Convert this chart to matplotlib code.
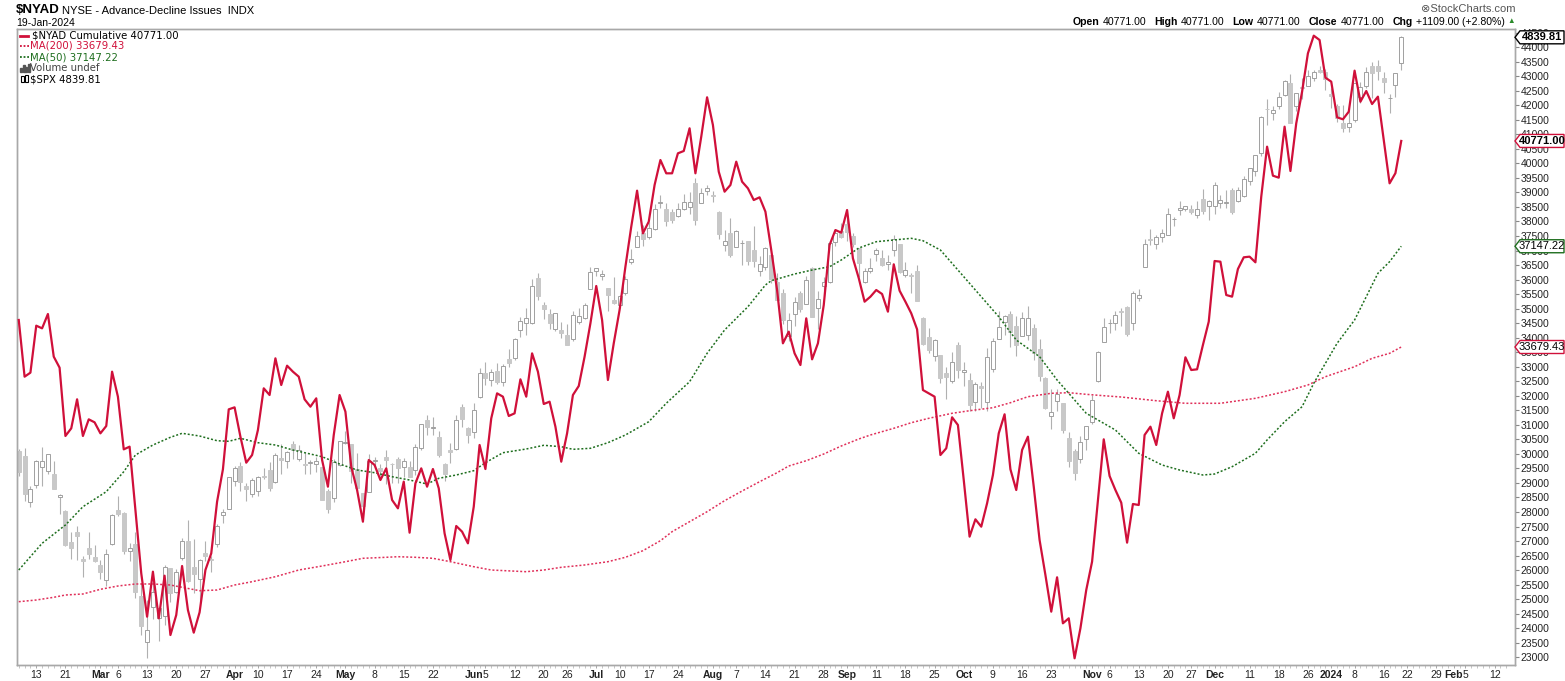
import matplotlib
matplotlib.use("Agg")
import matplotlib.pyplot as plt
import matplotlib.transforms as mtransforms
from matplotlib.patches import Polygon, Rectangle
from matplotlib.lines import Line2D
import numpy as np
import pandas as pd

plt.rcParams['font.family'] = ['Liberation Sans', 'DejaVu Sans']

# ---- data (trading-day index 0 = 8 Feb 2023) ----
holidays = ["2023-02-20", "2023-04-07", "2023-05-29", "2023-06-19", "2023-07-04",
            "2023-09-04", "2023-11-23", "2023-12-25", "2024-01-01", "2024-01-15"]

nyad = [34609, 32658, 32796, 34413, 34322, 34815, 33347, 32968, 30617, 30880,
        31879, 30617, 31190, 31087, 30708, 30960, 32830, 31970, 30157, 30249,
        28070, 25890, 24398, 25947, 24341, 25809, 23767, 24456, 26142, 24628,
        23848, 24548, 26005, 26578, 28356, 29469, 31534, 31603, 30593, 29698,
        29962, 30823, 32257, 32027, 33289, 32371, 33036, 32830, 32658, 31879,
        31626, 31913, 29790, 28872, 30651, 32027, 31454, 29560, 28758, 27667,
        29790, 29618, 29102, 29503, 28414, 28127, 29045, 27289, 28987, 29503,
        28872, 29480, 28815, 27266, 26349, 27519, 27324, 26922, 28184, 30307,
        29480, 31224, 32084, 31970, 31305, 31396, 32567, 31970, 33461, 32830,
        31718, 31798, 30937, 29733, 30708, 32027, 32337, 33345, 34495, 35779,
        34609, 32544, 33806, 34953, 36444, 37820, 39060, 37592, 37993, 39254,
        40115, 39657, 39657, 40345, 40425, 41206, 39657, 40918, 42273, 41320,
        39713, 39025, 39254, 40058, 39369, 39141, 38738, 38831, 38337, 37018,
        35641, 33806, 34207, 33461, 33059, 34666, 33255, 33806, 35124, 37190,
        37705, 37614, 38394, 36731, 36050, 35239, 35411, 35641, 35503, 34895,
        36525, 35618, 35239, 34839, 34288, 32199, 32085, 31970, 29962, 30193,
        31260, 30995, 29102, 27152, 27749, 27496, 28300, 29274, 30709, 31363,
        29470, 28758, 30134, 30593, 28872, 27037, 25832, 24571, 25753, 24170,
        24342, 22966, 23998, 25316, 26292, 28414, 30502, 29240, 28758, 28322,
        26946, 28276, 28242, 30651, 30937, 30307, 31397, 32142, 31225, 32027,
        33325, 32888, 32911, 33748, 34552, 36639, 36616, 35469, 35412, 36364,
        36766, 36789, 36594, 38853, 40574, 39576, 39507, 41262, 39737, 41378,
        42467, 43787, 44394, 44245, 42949, 42811, 41585, 41516, 41778, 43190,
        42122, 42490, 42042, 42295, 40804, 39313, 39662, 40771.00]

ma50_idx = [0, 4, 8, 11, 15, 18, 20, 23, 26, 28, 31, 34, 36, 38, 41, 44, 47, 52,
            55, 58, 61, 64, 67, 70, 72, 75, 78, 80, 83, 87, 90, 93, 95, 98, 101,
            104, 108, 111, 115, 118, 121, 125, 128, 129, 133, 136, 139, 141, 144,
            147, 150, 153, 155, 158, 161, 165, 168, 171, 175, 178, 180, 183, 185,
            188, 190, 192, 196, 199, 203, 205, 208, 212, 214, 217, 220, 222, 224,
            226, 229, 231, 233, 235, 237]
ma50_val = [26004, 26923, 27553, 28183, 28699, 29388, 29962, 30306, 30572, 30709,
            30616, 30454, 30434, 30537, 30386, 30306, 30134, 29904, 29653, 29446,
            29353, 29215, 29102, 28964, 29160, 29274, 29422, 29697, 30041, 30169,
            30296, 30248, 30158, 30193, 30386, 30651, 31108, 31742, 32485, 33462,
            34264, 35066, 35813, 35961, 36192, 36329, 36443, 36673, 37086, 37303,
            37362, 37420, 37338, 37017, 36329, 35410, 34722, 33920, 33345, 32544,
            32086, 31397, 31167, 30823, 30420, 30021, 29618, 29446, 29274, 29308,
            29560, 30021, 30479, 31108, 31625, 32430, 33118, 33807, 34609, 35410,
            36216, 36615, 37147.22]

ma200_idx = [0, 3, 6, 8, 11, 14, 17, 20, 23, 26, 28, 31, 34, 37, 40, 44, 48, 52,
             56, 59, 63, 65, 68, 71, 74, 78, 81, 87, 90, 93, 97, 101, 104, 107,
             110, 112, 115, 118, 121, 124, 127, 130, 132, 135, 138, 141, 144, 146,
             150, 153, 156, 160, 163, 167, 170, 173, 177, 180, 183, 186, 189, 195,
             200, 206, 212, 217, 221, 224, 229, 232, 235, 237]
ma200_val = [24914, 24972, 25065, 25144, 25179, 25340, 25454, 25523, 25523, 25488,
             25409, 25292, 25316, 25488, 25602, 25774, 26004, 26142, 26290, 26407,
             26442, 26462, 26442, 26407, 26290, 26118, 26004, 25946, 26004, 26097,
             26177, 26290, 26442, 26669, 27013, 27323, 27667, 28011, 28390, 28723,
             29043, 29353, 29584, 29766, 29997, 30272, 30513, 30651, 30881, 31074,
             31225, 31398, 31487, 31590, 31762, 31969, 32086, 32107, 32051, 32003,
             31958, 31831, 31742, 31742, 31914, 32141, 32372, 32657, 33001, 33290,
             33462, 33679.43]

spx_open = [4153, 4144, 4068, 4097, 4126, 4119, 4114, 4077, 4053, 4002, 4019, 3973, 3992, 3977,
            3964, 3939, 3998, 4055, 4049, 3987, 3999, 3912, 3835, 3894, 3876, 3878, 3959, 3918,
            3975, 4003, 3960, 3940, 3983, 3974, 3999, 4047, 4057,
            4103, 4128, 4094, 4082, 4086, 4111, 4122, 4101, 4141, 4137, 4164, 4140, 4131, 4133,
            4132, 4126, 4087, 4075, 4129,
            4166, 4164, 4123, 4083, 4084, 4136, 4124, 4143, 4132, 4139, 4126, 4127, 4122, 4157,
            4205, 4191, 4176, 4132, 4155, 4156, 4226, 4191,
            4184, 4242, 4283, 4271, 4285, 4268, 4305, 4308, 4353, 4366, 4366, 4440, 4396, 4381,
            4355, 4354, 4345, 4338, 4367, 4374, 4422,
            4451, 4443, 4423, 4404, 4395, 4415, 4467, 4492, 4514, 4509, 4522, 4564, 4554, 4550,
            4543, 4555, 4558, 4598, 4565, 4584,
            4578, 4550, 4495, 4514, 4492, 4498, 4501, 4487, 4451, 4459, 4478, 4433, 4416, 4344,
            4380, 4416, 4397, 4456, 4390, 4427, 4433, 4500, 4518,
            4530, 4510, 4490, 4434, 4451, 4480, 4473, 4463, 4487, 4497, 4445, 4445, 4452, 4374,
            4342, 4310, 4312, 4282, 4269, 4328,
            4284, 4270, 4234, 4260, 4234, 4289, 4339, 4367, 4381, 4360, 4343, 4346, 4357, 4322,
            4274, 4211, 4235, 4232, 4175, 4153, 4140, 4172,
            4201, 4269, 4334, 4365, 4366, 4385, 4392, 4365, 4407, 4458, 4505, 4497, 4509, 4511,
            4538, 4553, 4555, 4555, 4545, 4572, 4559,
            4559, 4565, 4565, 4587, 4568, 4577, 4601, 4618, 4647, 4721, 4714, 4725, 4744, 4764,
            4725, 4758, 4759, 4773, 4786, 4782,
            4745, 4726, 4698, 4691, 4703, 4741, 4759, 4792, 4792, 4772, 4739, 4760, 4797]
spx_high = [4156, 4157, 4095, 4138, 4160, 4148, 4136, 4081, 4055, 4018, 4029, 3979, 4018, 3997,
            3972, 3990, 4048, 4078, 4051, 4000, 4018, 3934, 3906, 3937, 3894, 3964, 3959, 3956,
            4009, 4039, 4007, 3973, 4003, 3979, 4031, 4057, 4110,
            4128, 4134, 4099, 4108, 4111, 4125, 4134, 4150, 4164, 4152, 4170, 4163, 4149, 4138,
            4143, 4127, 4090, 4139, 4170,
            4186, 4164, 4149, 4083, 4148, 4143, 4131, 4154, 4133, 4143, 4141, 4136, 4164, 4198,
            4212, 4210, 4186, 4133, 4166, 4213, 4231, 4193,
            4232, 4290, 4300, 4289, 4299, 4298, 4322, 4340, 4375, 4391, 4439, 4448, 4401, 4389,
            4382, 4367, 4363, 4385, 4391, 4398, 4458,
            4457, 4454, 4423, 4441, 4412, 4443, 4489, 4518, 4528, 4533, 4563, 4578, 4565, 4555,
            4564, 4580, 4583, 4607, 4590, 4595,
            4585, 4551, 4519, 4540, 4520, 4504, 4502, 4527, 4476, 4491, 4479, 4449, 4421, 4382,
            4408, 4419, 4443, 4458, 4418, 4441, 4501, 4522, 4532,
            4541, 4515, 4490, 4457, 4474, 4490, 4487, 4479, 4511, 4497, 4466, 4449, 4461, 4376,
            4357, 4338, 4313, 4292, 4318, 4334,
            4300, 4282, 4268, 4268, 4324, 4341, 4386, 4378, 4386, 4377, 4383, 4393, 4364, 4339,
            4276, 4256, 4255, 4232, 4184, 4156, 4178, 4195,
            4246, 4319, 4374, 4372, 4386, 4391, 4393, 4418, 4421, 4505, 4521, 4511, 4521, 4557,
            4542, 4568, 4560, 4562, 4568, 4588, 4570,
            4599, 4578, 4587, 4590, 4592, 4610, 4623, 4643, 4709, 4738, 4726, 4749, 4769, 4779,
            4748, 4772, 4785, 4786, 4793, 4788,
            4755, 4729, 4727, 4722, 4764, 4765, 4791, 4799, 4802, 4783, 4745, 4781, 4842]
spx_low = [4111, 4069, 4060, 4092, 4095, 4114, 4089, 4048, 3995, 3973, 3972, 3944, 3974, 3969,
           3940, 3928, 3996, 4044, 3981, 3970, 3908, 3847, 3809, 3873, 3838, 3864, 3902, 3917,
           3972, 3936, 3917, 3902, 3970, 3951, 3993, 4033, 4056,
           4095, 4086, 4069, 4077, 4078, 4106, 4087, 4100, 4114, 4125, 4140, 4136, 4115, 4114,
           4118, 4071, 4049, 4068, 4128,
           4164, 4100, 4088, 4049, 4084, 4124, 4111, 4098, 4099, 4099, 4110, 4110, 4113, 4154,
           4180, 4180, 4143, 4103, 4133, 4155, 4193, 4166,
           4174, 4241, 4262, 4261, 4264, 4261, 4292, 4304, 4342, 4345, 4363, 4404, 4372, 4356,
           4352, 4341, 4328, 4336, 4364, 4372, 4422,
           4443, 4437, 4385, 4397, 4390, 4412, 4464, 4492, 4494, 4505, 4519, 4557, 4527, 4531,
           4541, 4553, 4547, 4528, 4564, 4578,
           4567, 4505, 4485, 4475, 4492, 4461, 4462, 4458, 4443, 4453, 4432, 4403, 4364, 4335,
           4360, 4383, 4397, 4375, 4356, 4411, 4431, 4494, 4507,
           4501, 4491, 4442, 4431, 4448, 4468, 4460, 4453, 4477, 4448, 4442, 4416, 4402, 4329,
           4316, 4303, 4265, 4239, 4265, 4274,
           4260, 4220, 4220, 4225, 4219, 4284, 4339, 4345, 4325, 4311, 4343, 4337, 4304, 4269,
           4223, 4190, 4219, 4182, 4127, 4104, 4133, 4154,
           4197, 4268, 4334, 4348, 4354, 4361, 4344, 4354, 4402, 4458, 4495, 4488, 4500, 4511,
           4526, 4545, 4552, 4546, 4540, 4547, 4537,
           4547, 4556, 4557, 4547, 4566, 4574, 4594, 4609, 4643, 4694, 4702, 4720, 4743, 4697,
           4717, 4737, 4759, 4768, 4780, 4752,
           4723, 4700, 4683, 4682, 4700, 4731, 4756, 4739, 4769, 4748, 4714, 4740, 4785]
spx_close = [4118, 4082, 4090, 4137, 4136, 4148, 4090, 4079, 3997, 3991, 4012, 3970, 3982, 3970,
             3951, 3981, 4046, 4048, 3986, 3992, 3918, 3862, 3856, 3919, 3892, 3960, 3917, 3952,
             4003, 3937, 3949, 3971, 3978, 3971, 4028, 4051, 4109,
             4125, 4101, 4090, 4105, 4109, 4109, 4092, 4146, 4138, 4151, 4155, 4155, 4130, 4134,
             4137, 4072, 4056, 4135, 4169,
             4168, 4120, 4091, 4061, 4136, 4138, 4119, 4138, 4131, 4124, 4136, 4110, 4159, 4198,
             4192, 4193, 4146, 4115, 4151, 4205, 4206, 4180,
             4221, 4282, 4274, 4284, 4268, 4294, 4299, 4339, 4369, 4373, 4426, 4410, 4389, 4366,
             4382, 4348, 4329, 4378, 4377, 4396, 4450,
             4456, 4447, 4412, 4399, 4410, 4439, 4472, 4510, 4505, 4523, 4555, 4566, 4535, 4536,
             4555, 4567, 4567, 4537, 4582, 4589,
             4577, 4513, 4502, 4478, 4518, 4499, 4468, 4469, 4464, 4490, 4438, 4404, 4370, 4370,
             4400, 4388, 4436, 4376, 4406, 4433, 4498, 4515, 4508,
             4516, 4497, 4465, 4451, 4457, 4487, 4462, 4467, 4505, 4450, 4454, 4444, 4402, 4330,
             4320, 4337, 4274, 4275, 4300, 4288,
             4288, 4229, 4264, 4258, 4309, 4336, 4358, 4377, 4350, 4328, 4374, 4373, 4315, 4278,
             4224, 4217, 4248, 4187, 4137, 4117, 4167, 4194,
             4238, 4318, 4358, 4366, 4378, 4383, 4347, 4415, 4412, 4496, 4503, 4508, 4514, 4547,
             4538, 4557, 4559, 4550, 4555, 4551, 4568,
             4595, 4570, 4567, 4549, 4586, 4604, 4622, 4644, 4707, 4720, 4719, 4741, 4768, 4698,
             4747, 4755, 4775, 4782, 4783, 4770,
             4743, 4705, 4689, 4697, 4764, 4757, 4783, 4780, 4784, 4766, 4739, 4781, 4839.81]

# ---- layout (pixels) ----
W, H = 1565, 681
L, R, T, B = 17, 1515, 29, 665
RED = "#d0103a"
GREEN = "#1e6e1e"
GRID = "#a8a8a8"

days = pd.bdate_range("2023-02-08", "2024-02-14", freq="C", holidays=holidays)
n = len(nyad)
x = np.arange(n)
o, h, l, c = (np.array(a, dtype=float) for a in (spx_open, spx_high, spx_low, spx_close))

fig = plt.figure(figsize=(W / 100, H / 100), dpi=100)
fig.patch.set_facecolor("white")
pix = mtransforms.Affine2D().scale(1.0 / W, -1.0 / H).translate(0, 1) + fig.transFigure

ax_spx = fig.add_axes([L / W, 1 - B / H, (R - L) / W, (B - T) / H])
ax = ax_spx.twinx()

# SPX candles (overlay, own hidden scale)
up = c >= o
lo_b = np.minimum(o, c)
hgt = np.maximum(np.abs(c - o), 0.8)
ax_spx.vlines(x, l, h, color="#b0b0b0", lw=0.8, zorder=1)
ax_spx.bar(x[up], hgt[up], bottom=lo_b[up], width=0.68, facecolor="white",
           edgecolor="#a0a0a0", lw=0.7, zorder=2)
ax_spx.bar(x[~up], hgt[~up], bottom=lo_b[~up], width=0.68, facecolor="#c8c8c8",
           edgecolor="#c8c8c8", lw=0.7, zorder=2)
span = l.min(), h.max()
pad = (span[1] - span[0]) * 7 / 622
ax_spx.set_ylim(span[0] - pad, span[1] + pad)
ax_spx.tick_params(axis="y", left=False, labelleft=False)

# NYAD and moving averages
ax.plot(ma200_idx, ma200_val, color="#e0305a", lw=1.1, ls=(0, (1.3, 1.3)), zorder=3)
ax.plot(ma50_idx, ma50_val, color=GREEN, lw=1.1, ls=(0, (1.3, 1.3)), zorder=3)
ax.plot(x, nyad, color=RED, lw=1.6, zorder=4)
ax.set_ylim(22735, 44624)
ax.set_yticks(np.arange(23000, 45000, 500))
ax.tick_params(axis="y", direction="out", length=3, width=0.8, color="#888888",
               pad=1, labelsize=7.5, labelcolor="#222222")

ax_spx.set_xlim(-0.3, 256.5)
for a in (ax, ax_spx):
    for s in a.spines.values():
        s.set_color(GRID)
        s.set_linewidth(1)

# date labels: month at first trading day, week number at first day of week
mstarts = [i for i in range(1, len(days)) if days[i].month != days[i - 1].month]
pos, labs, bolds = [], [], []
for i in range(1, len(days)):
    d, p = days[i], days[i - 1]
    if i in mstarts:
        pos.append(i)
        labs.append(str(d.year) if d.month == 1 else d.strftime("%b"))
        bolds.append(True)
    elif d.weekday() < p.weekday():
        crowded = any(0 < m - i <= 2 or 0 < i - m <= 1 for m in mstarts)
        if not crowded:
            pos.append(i)
            labs.append(str(d.day))
            bolds.append(False)
ax_spx.set_xticks(pos, labs)
ax_spx.set_xticks(np.arange(len(days)), minor=True)
ax_spx.tick_params(axis="x", which="major", length=2, width=0.6, color="#999999",
                   pad=1.5, labelsize=7.5, labelcolor="#222222")
ax_spx.tick_params(axis="x", which="minor", length=2, width=0.6, color="#bbbbbb")
for t, b in zip(ax_spx.get_xticklabels(), bolds):
    if b:
        t.set_fontweight("bold")


def tag(yval, ytrans, yper_px, text, edge, bold):
    tr = mtransforms.blended_transform_factory(ax.transAxes, ytrans)
    px = 1.0 / (R - L)
    hh = 6.5 * yper_px
    pts = [(1.0, yval), (1 + 5 * px, yval + hh), (1 + 49 * px, yval + hh),
           (1 + 49 * px, yval - hh), (1 + 5 * px, yval - hh)]
    ax.add_patch(Polygon(pts, closed=True, transform=tr, facecolor="white",
                         edgecolor=edge, lw=1.0, clip_on=False, zorder=10))
    ax.text(1 + 27 * px, yval, text, transform=tr, ha="center", va="center",
            fontsize=8, fontweight="bold" if bold else "normal", color="black",
            clip_on=False, zorder=11)


main_pp = (44624 - 22735) / (B - T)
spx_lo, spx_hi = ax_spx.get_ylim()
tag(spx_close[-1], ax_spx.transData, (spx_hi - spx_lo) / (B - T), f"{spx_close[-1]:.2f}", "black", True)
tag(nyad[-1], ax.transData, main_pp, f"{nyad[-1]:.2f}", RED, True)
tag(ma50_val[-1], ax.transData, main_pp, f"{ma50_val[-1]:.2f}", GREEN, False)
tag(ma200_val[-1], ax.transData, main_pp, f"{ma200_val[-1]:.2f}", RED, False)

# ---- header ----
fig.text(16, 10, r"\$NYAD", transform=pix, fontsize=9.5, fontweight="bold", va="center")
fig.text(62, 10.5, "NYSE - Advance-Decline Issues  INDX", transform=pix, fontsize=8, va="center")
fig.text(16, 23, "19-Jan-2024", transform=pix, fontsize=7.5, va="center")
fig.text(1515, 9.5, "⊗StockCharts.com", transform=pix, fontsize=8, color="#555555",
         ha="right", va="center")

last = nyad[-1]
chg = nyad[-1] - nyad[-2]
pieces = [("Open", True), (f"{last:.2f}", False), ("High", True), (f"{last:.2f}", False),
          ("Low", True), (f"{last:.2f}", False), ("Close", True), (f"{last:.2f}", False),
          ("Chg", True), (f"+{chg:.2f} (+{chg / nyad[-2] * 100:.2f}%)", False)]
renderer = fig.canvas.get_renderer()
cur = 1505
for s, b in reversed(pieces):
    t = fig.text(cur, 22.3, s, transform=pix, fontsize=7.6, ha="right", va="center",
                 fontweight="bold" if b else "normal")
    w = t.get_window_extent(renderer).width
    cur -= w + (3.5 if not b else 8)
fig.text(1511, 21.5, "▲", transform=pix, fontsize=5.5, color="#2a8a2a", ha="center", va="center")

# ---- legend block ----
lf = dict(transform=pix, fontsize=7.3, va="center", family=["DejaVu Sans"])
fig.add_artist(Line2D([20, 28], [35.5, 35.5], transform=pix, color=RED, lw=2))
fig.text(32, 35.5, f"\\$NYAD Cumulative {last:.2f}", color="black", **lf)
fig.add_artist(Line2D([20, 29], [46, 46], transform=pix, color=RED, lw=1.3, ls=(0, (1, 1))))
fig.text(30, 46, f"MA(200) {ma200_val[-1]:.2f}", color=RED, **lf)
fig.add_artist(Line2D([20, 29], [57, 57], transform=pix, color=GREEN, lw=1.3, ls=(0, (1, 1))))
fig.text(30, 57, f"MA(50) {ma50_val[-1]:.2f}", color=GREEN, **lf)
for bx, bh in zip([20, 22.5, 25, 27.5], [4, 7, 5, 8]):
    fig.add_artist(Rectangle((bx, 72 - bh), 2, bh, transform=pix, color="#555555"))
fig.text(30, 68, "Volume undef", color="#444444", **lf)
for bx, by, bh in [(21, 76, 6), (25, 75, 7)]:
    fig.add_artist(Rectangle((bx, by), 2.5, bh, transform=pix, facecolor="white",
                             edgecolor="black", lw=0.8))
fig.text(30, 79.5, f"\\$SPX {spx_close[-1]:.2f}", color="black", **lf)

fig.savefig("out.png", dpi=100, facecolor="white")
